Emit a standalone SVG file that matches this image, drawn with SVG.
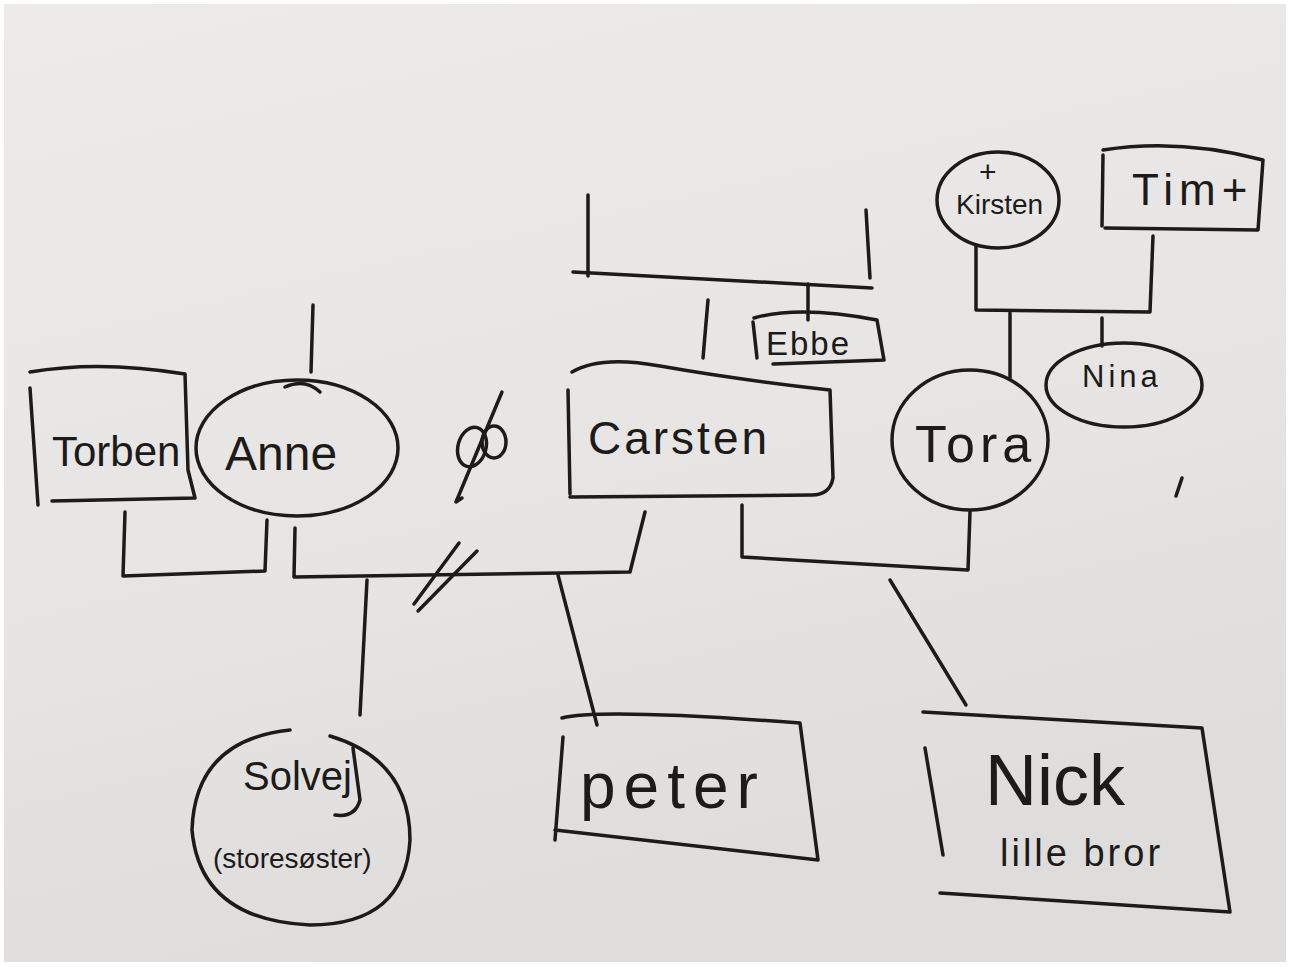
<svg xmlns="http://www.w3.org/2000/svg" width="1290" height="967" viewBox="0 0 1290 967">
<defs>
<linearGradient id="paper" x1="0" y1="0" x2="0.3" y2="1">
<stop offset="0" stop-color="#ecebea"/>
<stop offset="0.6" stop-color="#e6e5e3"/>
<stop offset="1" stop-color="#dedddb"/>
</linearGradient>
</defs>
<style>
.s{fill:none;stroke:#1c1b1a;stroke-width:3.5;stroke-linecap:round;stroke-linejoin:round}
.t{font-family:"Liberation Sans","DejaVu Sans",sans-serif;fill:#1c1b1a}
</style>
<rect width="1290" height="967" fill="#ffffff"/>
<rect x="4" y="4" width="1282" height="958" fill="url(#paper)"/>

<g id="connectors" class="s">
<path d="M313 305 L311 372"/>
<path d="M708 300 L703 358"/>
<path d="M588 195 L588 276"/>
<path d="M573 272 L872 288"/>
<path d="M866 210 L870 278"/>
<path d="M808 284 L808 320"/>
<path d="M976 245 L976 310 L1150 312 L1153 236"/>
<path d="M1102 318 L1102 346"/>
<path d="M1010 313 L1010 378"/>
<path d="M125 512 L123 576 L265 571 L267 520"/>
<path d="M295 528 L294 577 L630 572 L645 512"/>
<path d="M742 505 L742 557 L968 570 L970 512"/>
<path d="M367 580 L360 715"/>
<path d="M558 575 L597 725"/>
<path d="M890 580 L966 705"/>
<path d="M414 604 L459 543"/>
<path d="M418 611 L477 551"/>
<path d="M1176 496 L1182 478"/>
</g>

<g id="divorce-symbol" class="s">
<ellipse cx="472" cy="447" rx="14" ry="20" transform="rotate(15 472 447)"/>
<ellipse cx="494" cy="442" rx="12" ry="16"/>
<path d="M502 392 L456 502 L462 498"/>
</g>

<g id="torben">
<path class="s" d="M30 372 Q100 360 185 374 L188 470 L195 498 L52 501"/>
<path class="s" d="M30 388 L38 505"/>
<text class="t" x="52" y="466" font-size="42">Torben</text>
</g>

<g id="anne">
<ellipse class="s" cx="297" cy="448" rx="101" ry="68"/>
<path class="s" d="M285 387 Q305 378 320 392"/>
<text class="t" x="225" y="470" font-size="48">Anne</text>
</g>

<g id="carsten">
<path class="s" d="M572 372 Q600 355 660 366 Q740 380 830 390 L833 478 Q830 495 812 495 L570 497"/>
<path class="s" d="M568 390 L570 494"/>
<text class="t" x="588" y="454" font-size="46" letter-spacing="3">Carsten</text>
</g>

<g id="ebbe">
<path class="s" d="M754 318 Q800 305 877 320 L884 360 L773 364"/>
<path class="s" d="M753 322 L757 358"/>
<text class="t" x="766" y="355" font-size="33" letter-spacing="2">Ebbe</text>
</g>

<g id="kirsten">
<ellipse class="s" cx="998" cy="200" rx="61" ry="48"/>
<text class="t" x="979" y="182" font-size="30">+</text>
<text class="t" x="956" y="214" font-size="28">Kirsten</text>
</g>

<g id="tim">
<path class="s" d="M1103 150 Q1180 138 1263 160 L1258 230 L1105 228"/>
<path class="s" d="M1103 155 L1102 226"/>
<text class="t" x="1132" y="205" font-size="44" letter-spacing="6">Tim+</text>
</g>

<g id="nina">
<ellipse class="s" cx="1124" cy="385" rx="78" ry="42"/>
<text class="t" x="1082" y="387" font-size="31" letter-spacing="4">Nina</text>
</g>

<g id="tora">
<ellipse class="s" cx="970" cy="440" rx="78" ry="70"/>
<text class="t" x="915" y="462" font-size="52" letter-spacing="5">Tora</text>
</g>

<g id="solvej">
<path class="s" d="M330 736 Q410 760 410 840 Q405 925 310 925 Q200 920 192 830 Q195 740 290 730"/>
<path class="s" d="M353 748 L360 800 Q355 818 335 815"/>
<text class="t" x="243" y="790" font-size="40">Solvej</text>
<text class="t" x="213" y="868" font-size="28">(storesøster)</text>
</g>

<g id="peter">
<path class="s" d="M562 718 Q600 708 800 723 L818 860 L555 830"/>
<path class="s" d="M563 737 L555 840"/>
<text class="t" x="580" y="808" font-size="64" letter-spacing="8">peter</text>
</g>

<g id="nick">
<path class="s" d="M923 712 L1202 728 L1230 912 L940 893"/>
<path class="s" d="M925 748 L943 855"/>
<text class="t" x="985" y="805" font-size="72">Nick</text>
<text class="t" x="1000" y="866" font-size="38" letter-spacing="3">lille bror</text>
</g>
</svg>
